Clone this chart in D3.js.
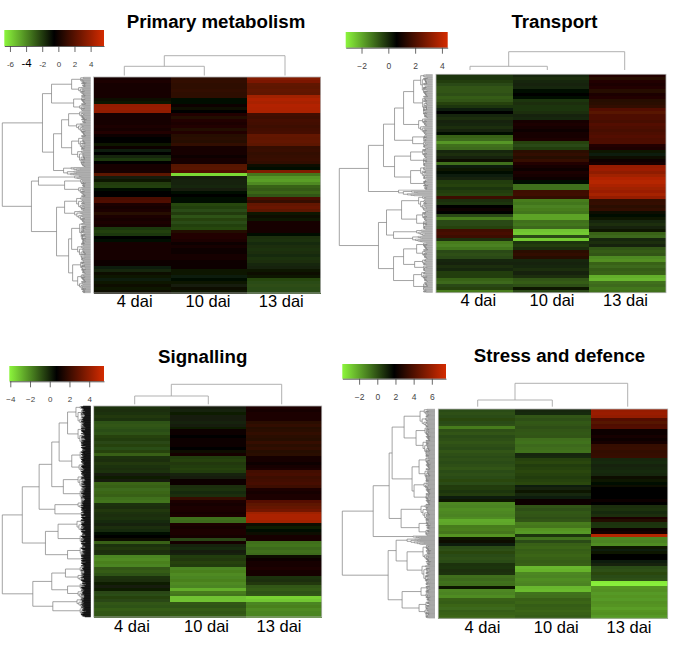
<!DOCTYPE html>
<html><head><meta charset="utf-8">
<script src="https://cdn.jsdelivr.net/npm/d3@7"></script>
<style>html,body{margin:0;padding:0;background:#fff}svg{display:block}text{font-family:"Liberation Sans",Arial,sans-serif}</style>
</head><body><div id="chart"></div>
<script>
const columns = ["4 dai","10 dai","13 dai"];

const primary4 = [0.2,0.3,0.1,0.2,0.1,0.2,0.1,-0.9,-1.1,3.8,3.9,3.7,0.2,0.1,0.2,0.1,0.3,0.2,0.4,-0.3,-0.4,-0.5,-1,-0.3,-1.2,-0.4,-1.5,-1.9,-0.5,0.2,0.1,0.1,2.2,-1.3,-1,-2,-2.1,-0.8,-0.6,-0.5,1.6,1.8,0.3,0,0.3,0.6,0.3,0.2,0.3,0.1,-1.9,-2.1,-1.9,-0.5,-0.7,0.1,0.2,0.1,0.2,0.1,0.2,-0.2,-0.3,-1.2,-1.5,-0.9,-1,-1.2,-1,-0.9,-1,-0.9];
const primary10 = [0.8,0.9,0.8,0.8,0.9,0.8,0.8,-0.7,-0.7,-0.3,-0.9,-0.6,0.4,0.5,0.4,0.3,0.4,0.5,0.4,0.6,0.7,0.6,0.9,0.1,0,0.2,-0.1,0,0.1,2,2.1,1.9,-6,-1.3,-1.4,-1.4,-1.5,-1.3,-0.7,-0.6,-0.7,-0.8,-2.3,-2.1,-2.4,-2,-2.6,-2.2,-2.4,-2.1,-2.3,0.5,0.4,0.4,0.3,-0.1,0,-0.2,-0.1,0,0.1,-0.1,-0.2,-0.3,-1.1,-1,-1.2,-0.7,-1.1,-1.3,-0.9,-1.1];
const primary13 = [3.3,3.1,2.3,2.2,2.4,2.3,4.2,4.6,4.4,4.7,4.6,4.5,1.4,1.3,1.5,1.4,1.3,1.4,1.5,2.4,2.3,2.4,2.2,1,1.1,0.9,1,1.1,0.9,-0.9,-0.8,3.2,-3.5,-4.3,-4.5,-4,-3,-2.8,-3.1,-2.7,1.6,1,2.4,2.6,2.2,-1,-0.9,-1.1,0,0.1,0.2,0,-0.7,-1.7,-1.8,-1.6,-1.7,-1.8,-1.7,-1.6,-1.8,-1.7,-1.5,-1.4,-1,-0.9,-1.1,-2.3,-2.4,-2.5,-2.4,-2.4];

const transport4 = [-0.2,-0.2,-0.3,-0.5,-0.7,-0.7,-0.6,-0.8,-0.7,-0.4,-0.2,0.2,0.6,0,-0.1,0.1,0,-0.1,0.1,0.5,-0.9,-1,-1.7,-1.1,-1,0,-0.1,0.1,0.4,-1.1,0.2,0.3,0.5,0.2,0.1,-0.3,-0.4,-0.2,-0.3,-0.4,1.7,-0.1,-0.2,0.7,0.8,0.6,-0.5,-1.3,-0.5,-0.5,-0.4,1.8,1.9,1.7,-0.1,-1.3,-1.4,-1.2,-0.5,-0.6,-0.5,0,0.1,-0.1,0,-0.3,-0.3,-0.9,-1,-0.5,-0.4,-1.3];
const transport10 = [0,-0.1,0,0.1,0,0.5,0.6,0.5,-0.2,-0.1,-0.2,-0.2,-0.1,0.1,0,1,1.1,1,0.9,1,1,1.1,-0.4,-0.5,-0.3,1.4,1.5,1.3,1.6,1.2,1,0.9,1.1,1,0.9,0.5,-1.1,-1.1,1.7,1.8,1.5,-1.3,-1.2,-1.4,-1.3,-1.2,-1.9,-1.9,-1.1,-1.2,-1,-2.4,-2.5,-0.5,-2.5,-0.2,-0.3,-0.1,1.4,1.5,1.3,0,0.1,0,-0.1,0.1,-0.1,-0.7,-0.8,-0.6,0.3,-0.5];
const transport13 = [1.2,1.3,1.2,1.1,1.2,1.3,1.1,1.2,1.3,1.4,1.5,2.1,2.2,2,2,1.9,2.1,2,1.9,2,2.1,2,2,1.2,1.1,0.3,0.2,0.4,0.9,1,3.3,3.4,3.2,3.5,3.8,3.9,3.7,3.5,3.4,3.6,3.3,1.5,1.6,1.4,1.5,0.4,0.5,0.3,0,-0.1,0.1,0.3,-0.9,-1,0,-0.1,0.1,-0.7,-0.8,-0.7,-1.5,-1.6,-0.9,-1,-0.8,-0.9,-2.1,-2.2,-1.1,-1,-1.2,-1.1];

const signalling4 = [-0.3,-0.2,-0.3,-0.4,-0.3,-0.9,-1,-0.9,-0.8,-0.9,-0.6,-0.5,-0.7,-0.6,-0.8,-0.6,-1.2,-0.3,-0.2,-0.4,-0.3,-0.2,-0.3,0.1,0.2,0.1,-1.3,-1.2,-1.4,-1.3,-1.2,-1.5,-1.6,-0.3,-0.2,-0.4,-0.3,-0.2,-0.3,-0.1,0,-0.2,-0.1,0.5,0.6,0.4,-1.2,-0.3,-0.4,-0.2,-0.3,-1.9,-2,-1.8,-1.9,-1,-1.1,-0.9,-0.3,-0.2,0.2,0.1,0.2,-0.7,-0.8,-0.6,-0.7,-1,-0.9,-1.1,-1,-1];
const signalling10 = [0.1,0,0.2,0.1,0.1,0,0.1,0.2,0.9,1,0.8,0.9,0.9,1,0.8,0.4,1.2,-0.5,-0.6,-0.4,-0.5,-0.6,-0.5,0,0.1,1,0.9,-0.2,-0.3,-0.1,-0.2,1.9,1.3,1.2,1.4,1.3,1.2,1.3,-1.5,-1.4,1.3,1.2,1.4,1.3,1.2,-0.7,1.2,0,-0.1,0.1,0,-0.5,-0.4,-0.6,-0.5,-1.9,-1.8,-2,-1.9,-1.8,-2,-1.9,-2.7,-1.7,-1.6,-3.1,-3.1,-1,-0.9,-1.1,-1,-1.1];
const signalling13 = [1.3,1.2,1.3,1.4,1.3,1.7,1.8,1.6,1.7,1.8,1.7,1.6,1.9,1.7,1.8,1.6,1.7,1.2,1.1,1,1.2,1.3,2.2,2.3,2.1,2.2,2.3,2.1,1.3,1.2,1.4,1.3,2.6,2.8,3,3.3,4.3,4.6,4.6,4.4,0.4,0.2,0.5,0.4,1.1,1.2,-1.5,-1.6,-1.4,-1.5,-1.4,0.4,1,1.2,1.1,1.3,1.2,1.1,-0.3,-0.2,-0.4,-1,-1.1,-0.9,-1,-3.4,-3.2,-1.9,-1.8,-2,-1.9,-1.9];

const stress4 = [0.1,0,0.1,0.2,0.1,0,-1,0,-0.1,0.1,0,-0.1,0,0.1,-0.1,0,0.1,0,0.1,0,-0.1,0.1,0,0.1,0.2,0.1,0.5,0.4,0.6,0.5,1.2,1.3,-1.3,-1.2,-1.4,-1.3,-1.2,-1.4,-2.1,-2,-1,-1.1,-0.9,-1.6,1.4,1.5,1.2,0.1,0,0.2,0.1,0,0.1,0.7,0.6,0.8,0.7,-0.7,-0.6,-0.8,-0.7,1.3,-1.3,-1.2,-1.4,-0.4,-0.3,-0.5,-0.6,-0.3,-0.4,-0.5];
const stress10 = [1,0.9,-0.1,0,-0.2,-0.1,0,-0.1,-0.2,-0.1,-0.7,-0.8,-0.6,-0.7,-0.8,1,0.9,0.3,0.2,0.4,0.3,0.2,0.3,0.4,0.3,0.2,1.2,1.1,1.3,1,1.2,2.1,2.2,-0.1,0,-0.2,-0.1,0,-0.1,-1,-0.9,-1.6,-1.7,0.6,-0.8,0.1,-0.4,-0.5,-0.3,-0.4,-0.5,-0.4,-0.3,-0.4,-2.4,-2.3,-1.3,-1.2,-1.4,-1.3,-1.2,-2.4,-2.5,-0.8,-0.7,-0.4,-0.5,-0.3,-0.4,-0.5,-0.4,-0.3];
const stress13 = [5.9,6,5.8,4.1,4.2,4,4.1,2.3,2.1,2.5,2.2,2.4,3.3,3.4,3.2,3.3,3.4,1,0.9,1.1,1,0.9,1,1.5,1.4,1.6,1.5,1.9,2,1.8,1.9,2.1,1.8,0.8,0.7,0.9,0.8,2.7,2.8,0.7,0.6,2.3,2.4,6.7,-1.3,-1.2,-1.4,1.3,1.2,1.4,1.8,1.9,1.2,1.1,0.1,0,0.2,0.1,0,-3.6,-3.7,-1.6,-1.5,-1.7,-1.6,-1.7,-1.5,-1.6,-1.8,-1.6,-1.5,-1.7];

// Row dendrograms: [height, left, right] for a join, [height, count] for a tight tuft of rows.
const primaryTree = [88,[48,[39,[19,[10,10],[12,10]],[17,[9,8],[11,6]]],[37,[29,[22,[11,12],[14,14]],[19,[12,14],[13,16]]],[27,8]]],[59,[52,[16,4],[26,[10,8],[12,10]]],[34,[26,[14,14],[16,12]],[22,[19,[11,23],[13,15]],[18,[10,13],[13,19]]]]]];
const transportTree = [93,[64,[49,[38,[29,[19,[12,22],[10,20]],[14,16]],[20,[8,6],[9,6]]],[38,[22,[10,10],[9,8]],[22,[12,12],[8,10]]]],[34,6]],[54,[46,[31,[14,14],[16,[10,10],[9,8]]],[39,[16,6],[20,6]]],[39,[29,[16,[9,8],[10,8]],[18,[10,6],[9,6]]],[19,[11,10],[9,10]]]]];
const signallingTree = [84,[65,[49,[37,[30,[22,[14,22],[12,22]],[18,[10,14],[11,12]]],[26,[12,14],[10,12]]],[34,[12,10],[9,8]]],[43,[31,[13,14],[10,12]],[22,[10,10],[8,10]]]],[55,[37,[24,[10,8],[12,8]],[22,[10,8],[12,8]]],[36,[13,9],[10,9]]]];
const stressTree = [93,[62,[46,[43,[31,[15,18],[19,[10,14],[12,16]]],[23,[16,[9,12],[10,12]],[21,[11,12],[9,10]]]],[34,[14,16],[16,[8,8],[9,6]]]],[22,3]],[47,[39,[28,6],[28,[12,20],[13,20]]],[33,[14,[8,8],[9,8]],[16,[9,8],[10,9]]]]];

const primaryTicks = [-6,-4,-2,0,2,4];
const transportTicks = [-2,0,2,4];
const signallingTicks = [-4,-2,0,2,4];
const stressTicks = [-2,0,2,4,6];

const panels = [
 {title:"Primary metabolism",tx:216,ty:28,vals:[primary4,primary10,primary13],tree:primaryTree,density:1.6,
  edges:[93.5,171,247,320.5],top:77,bottom:293,treeL:2.3,treeR:90.7,leaf:"#8a8a8a",leafW:0.6,
  domain:[-6.7,5.66],ticks:primaryTicks,lg:[4.3,104,30,46],lgFont:8,tickLen:6,pad:9,hyphen:true,
  lx:[134.7,208,281.3],ly:306.5,cd:{x:[124.3,204.3,285],rootX:164.3,rootY:55.7,innerY:66.3,end:75.5}},
 {title:"Transport",tx:554.5,ty:27.5,vals:[transport4,transport10,transport13],tree:transportTree,density:1.5,
  edges:[436,512.7,589.3,666],top:74.3,bottom:292.7,treeL:339.3,treeR:432.7,leaf:"#8a8a8a",leafW:0.6,
  domain:[-3.18,4.43],ticks:transportTicks,lg:[345.7,447.7,32,47.7],lgFont:8.5,tickLen:6,pad:9,
  lx:[478.3,552,625.5],ly:306,cd:{x:[470,547.3,624.7],rootX:508.7,rootY:51.7,innerY:66.3,end:70}},
 {title:"Signalling",tx:202.7,ty:362.7,vals:[signalling4,signalling10,signalling13],tree:signallingTree,density:2.6,
  edges:[93.7,170,246,321.7],top:406,bottom:617,treeL:2.3,treeR:90.7,leaf:"#000",leafW:0.7,
  domain:[-4.1,5.5],ticks:signallingTicks,lg:[9.3,104,366,381.3],lgFont:8,tickLen:6,pad:9,
  lx:[132,206.5,279],ly:631.5,cd:{x:[134.7,208.3,281.7],rootX:171.3,rootY:384.3,innerY:396,end:404.3}},
 {title:"Stress and defence",tx:559.5,ty:362,vals:[stress4,stress10,stress13],tree:stressTree,density:1.8,
  edges:[438.3,515,591.3,667.7],top:409,bottom:618.3,treeL:342.3,treeR:435,leaf:"#8a8a8a",leafW:0.6,
  domain:[-3.85,7.56],ticks:stressTicks,lg:[342.3,446,364,378.7],lgFont:8.5,tickLen:6,pad:9,
  lx:[482.5,556.3,629],ly:633,cd:{x:[477.7,552.3,627.7],rootX:515,rootY:383.3,innerY:400,end:406.7}}
];

const LIME="#8cf53c", BLACK="#000000", RED="#d42b00";
const svg=d3.select("#chart").append("svg").attr("width",685).attr("height",646);
const defs=svg.append("defs");
defs.append("filter").attr("id","soft").attr("x","-2%").attr("y","-2%").attr("width","104%").attr("height","104%")
  .append("feGaussianBlur").attr("stdDeviation","0.2 0.7");

// Fine branching inside a tuft: uneven splits, so single rows leave at different depths.
const splitPattern=[0.18,0.4,0.28,0.12,0.46,0.22];
const floorPattern=[8,5,7,4,9,6];
let tuftStep=0;
function build(t,k){
  if(t.length===3) return {h:t[0],kids:[build(t[1],k),build(t[2],k)]};
  return tuft(t[0],Math.round(t[1]*k));
}
function tuft(h,n){
  if(n<=1) return {h:0,kids:null};
  const s=tuftStep++;
  const a=Math.max(1,Math.round(n*splitPattern[s%6])), b=n-a;
  const low=floorPattern[s%6];
  const h1=a>1?Math.max(low*0.7,h*0.72):0, h2=b>1?Math.max(low,h*0.86):0;
  return {h:Math.max(h,low),kids:[tuft(Math.min(h1,h),a),tuft(Math.min(h2,h),b)]};
}
function countLeaves(n){return n.kids?countLeaves(n.kids[0])+countLeaves(n.kids[1]):1;}

panels.forEach(p=>{
  const g=svg.append("g");
  const mid=(p.domain[0]+p.domain[1])/2;
  const color=d3.scaleLinear().domain([p.domain[0],mid,p.domain[1]]).range([LIME,BLACK,RED]);
  const x0=d3.scaleOrdinal().domain(columns).range(p.edges.slice(0,3));
  const x1=d3.scaleOrdinal().domain(columns).range(p.edges.slice(1));
  const heat=g.append("g").attr("filter","url(#soft)");
  columns.forEach((c,ci)=>{
    const rows=p.vals[ci];
    const y=d3.scaleBand().domain(d3.range(rows.length)).range([p.top,p.bottom]);
    heat.append("g").attr("shape-rendering","crispEdges").selectAll("rect").data(rows).join("rect")
      .attr("x",x0(c)).attr("width",x1(c)-x0(c))
      .attr("y",(d,i)=>y(i)).attr("height",y.bandwidth()+0.6)
      .attr("fill",d=>color(d));
  });
  g.append("rect").attr("x",p.edges[0]).attr("y",p.top).attr("width",p.edges[3]-p.edges[0]).attr("height",p.bottom-p.top)
    .attr("fill","none").attr("stroke","#b5b5b5").attr("stroke-width",0.8);

  // row dendrogram
  const root=build(p.tree,p.density), N=countLeaves(root);
  const hx=d3.scaleLinear().domain([0,p.tree[0]]).range([p.treeR,p.treeL]);
  const ly=d3.scaleLinear().domain([0,N]).range([p.top,p.bottom]);
  const inner=d3.path(), leaves=d3.path();
  let idx=0;
  (function walk(n){
    if(!n.kids){const v=ly(idx+0.5); idx++; return v;}
    const ya=walk(n.kids[0]), yb=walk(n.kids[1]), px=hx(n.h);
    [[n.kids[0],ya],[n.kids[1],yb]].forEach(([k,yy])=>{
      const path=k.kids?inner:leaves;
      path.moveTo(px,yy); path.lineTo(hx(k.h),yy);
    });
    inner.moveTo(px,ya); inner.lineTo(px,yb);
    return (ya+yb)/2;
  })(root);
  g.append("path").attr("d",inner.toString()).attr("fill","none").attr("stroke","#7d7d7d").attr("stroke-width",0.7);
  g.append("path").attr("d",leaves.toString()).attr("fill","none").attr("stroke",p.leaf).attr("stroke-width",p.leafW);

  // column dendrogram
  const cd=p.cd, cp=d3.path();
  cp.moveTo(cd.x[0],cd.end);cp.lineTo(cd.x[0],cd.innerY);cp.lineTo(cd.x[1],cd.innerY);cp.lineTo(cd.x[1],cd.end);
  cp.moveTo(cd.rootX,cd.innerY);cp.lineTo(cd.rootX,cd.rootY);cp.lineTo(cd.x[2],cd.rootY);cp.lineTo(cd.x[2],cd.end);
  g.append("path").attr("d",cp.toString()).attr("fill","none").attr("stroke","#a8a8a8").attr("stroke-width",0.9);

  // colour key
  const [lx0,lx1,ly0,ly1]=p.lg;
  const kx=d3.scaleLinear().domain(p.domain).range([lx0,lx1]);
  const gid="key"+panels.indexOf(p);
  const grad=defs.append("linearGradient").attr("id",gid);
  grad.selectAll("stop").data(d3.range(0,1.0001,0.05)).join("stop")
    .attr("offset",d=>d).attr("stop-color",d=>color(p.domain[0]+d*(p.domain[1]-p.domain[0])));
  g.append("rect").attr("x",lx0).attr("y",ly0).attr("width",lx1-lx0).attr("height",ly1-ly0).attr("fill",`url(#${gid})`);
  const fmt=v=>p.hyphen?String(v):String(v).replace("-","\u2212");
  const ax=g.append("g").attr("transform",`translate(0,${ly1})`)
    .call(d3.axisBottom(kx).tickValues(p.ticks).tickSize(p.tickLen).tickSizeOuter(0).tickPadding(p.pad).tickFormat(fmt));
  ax.select(".domain").attr("stroke","#333").attr("stroke-width",0.8);
  ax.selectAll(".tick line").attr("stroke","#444").attr("stroke-width",0.8);
  ax.selectAll("text").attr("font-size",p.lgFont).attr("fill","#444").attr("font-family",'"Liberation Sans",Arial,sans-serif');
  if(p.hyphen) ax.selectAll(".tick text").filter(d=>d===-4).attr("font-size",11.5).attr("fill","#000").attr("dy","0.5em");

  // labels
  g.append("text").attr("x",p.tx).attr("y",p.ty).attr("text-anchor","middle")
    .attr("font-size",18.7).attr("font-weight","bold").attr("fill","#000").text(p.title);
  g.selectAll(".col").data(columns).join("text").attr("class","col")
    .attr("x",(d,i)=>p.lx[i]).attr("y",p.ly).attr("text-anchor","middle")
    .attr("font-size",16.5).attr("fill","#000").text(d=>d);
});
</script></body></html>
